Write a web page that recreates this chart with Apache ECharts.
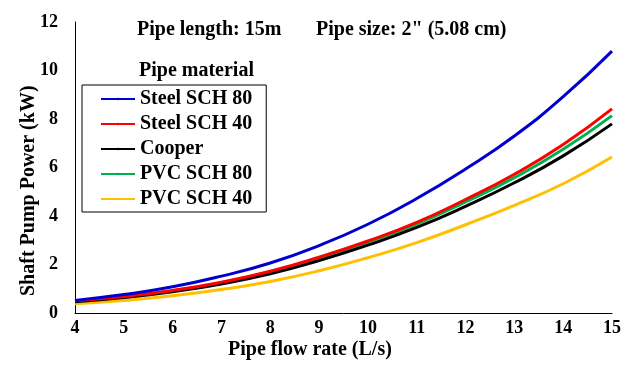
<!DOCTYPE html>
<html>
<head>
<meta charset="utf-8">
<script src="https://cdn.jsdelivr.net/npm/echarts@6/dist/echarts.min.js"></script>
<style>
  html, body { margin: 0; padding: 0; background: #fff; }
  #main { width: 631px; height: 369px; }
</style>
</head>
<body>
<div id="main"></div>
<script>
// pipe flow rate, L/s
const flowRate = [4, 5, 6, 7, 8, 9, 10, 11, 12, 13, 14, 15];

// shaft pump power, kW
const steelSch80 = [0.52, 0.76, 1.08, 1.52, 2.06, 2.78, 3.66, 4.72, 5.94, 7.30, 8.92, 10.80];
const steelSch40 = [0.50, 0.68, 0.93, 1.27, 1.72, 2.30, 2.97, 3.74, 4.68, 5.72, 6.95, 8.42];
const cooper     = [0.46, 0.64, 0.88, 1.20, 1.62, 2.16, 2.80, 3.53, 4.40, 5.37, 6.48, 7.80];
const pvcSch80   = [0.49, 0.67, 0.92, 1.25, 1.69, 2.26, 2.92, 3.67, 4.58, 5.58, 6.75, 8.14];
const pvcSch40   = [0.38, 0.52, 0.71, 0.97, 1.30, 1.74, 2.28, 2.90, 3.64, 4.44, 5.33, 6.43];

const seriesNames = ['Steel SCH 80', 'Steel SCH 40', 'Cooper', 'PVC SCH 80', 'PVC SCH 40'];
const seriesData = [steelSch80, steelSch40, cooper, pvcSch80, pvcSch40];
const seriesColors = ['#0000cc', '#ff0000', '#000000', '#00b050', '#ffc000'];

const FONT = "'Liberation Serif', 'Times New Roman', serif";

let myChart = echarts.init(document.getElementById('main'));

let series = seriesNames.map((name, i) => {
    return {
        name: name,
        type: 'line',
        smooth: true,
        symbol: 'none',
        data: flowRate.map((q, k) => [q, seriesData[i][k]]),
        lineStyle: { color: seriesColors[i], width: 3 },
        itemStyle: { color: seriesColors[i] },
        z: 10 - i
    };
});

let option = {
    backgroundColor: '#fff',
    animation: false,
    grid: { left: 75, right: 19, top: 22, bottom: 56, containLabel: false },
    legend: {
        orient: 'vertical',
        left: 82,
        top: 85,
        data: seriesNames,
        itemWidth: 34,
        itemHeight: 3,
        itemGap: 5,
        padding: [4, 14, 3, 18],
        borderColor: '#000',
        borderWidth: 1,
        selectedMode: false,
        textStyle: { fontFamily: FONT, fontWeight: 'bold', fontSize: 20, color: '#000' }
    },
    xAxis: {
        type: 'value',
        min: 4,
        max: 15,
        interval: 1,
        axisLine: { show: true, lineStyle: { color: '#000', width: 1 } },
        axisTick: { show: false },
        splitLine: { show: false },
        axisLabel: { margin: 6, fontFamily: FONT, fontWeight: 'bold', fontSize: 18, color: '#000' }
    },
    yAxis: {
        type: 'value',
        min: 0,
        max: 12,
        interval: 2,
        axisLine: { show: true, lineStyle: { color: '#000', width: 1 } },
        axisTick: { show: false },
        splitLine: { show: false },
        axisLabel: { margin: 17, fontFamily: FONT, fontWeight: 'bold', fontSize: 18, color: '#000' }
    },
    graphic: [
        {
            type: 'text', left: 137, top: 20,
            style: { text: 'Pipe length: 15m', font: 'bold 20px ' + FONT, fill: '#000' }
        },
        {
            type: 'text', left: 316, top: 20,
            style: { text: 'Pipe size: 2" (5.08 cm)', font: 'bold 20px ' + FONT, fill: '#000' }
        },
        {
            type: 'text', left: 139, top: 61,
            style: { text: 'Pipe material', font: 'bold 20px ' + FONT, fill: '#000' }
        },
        {
            type: 'text', left: 228, top: 340,
            style: { text: 'Pipe flow rate (L/s)', font: 'bold 20px ' + FONT, fill: '#000' }
        },
        {
            type: 'text', x: 19, y: 296, rotation: Math.PI / 2,
            style: { text: 'Shaft Pump Power (kW)', font: 'bold 20px ' + FONT, fill: '#000' }
        }
    ],
    series: series
};
myChart.setOption(option);
</script>
</body>
</html>
